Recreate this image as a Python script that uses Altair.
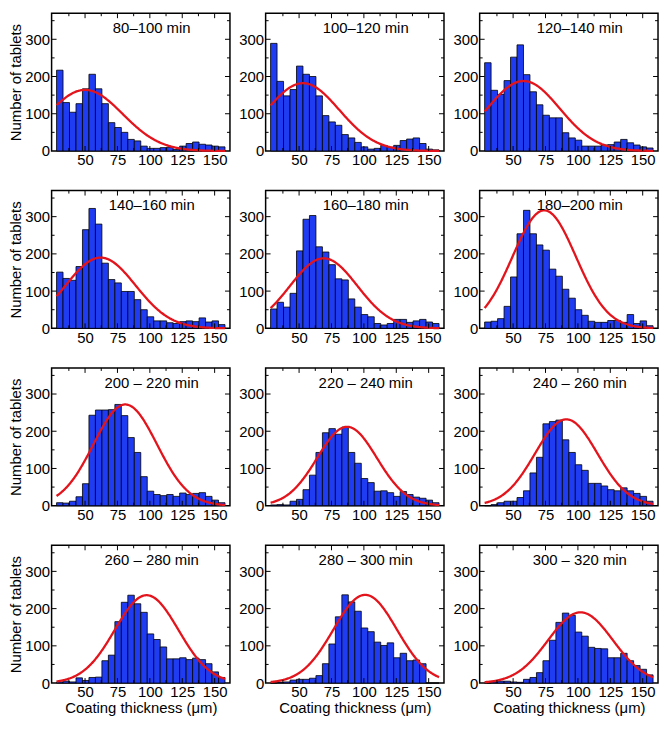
import altair as alt
import pandas as pd

# ---------------- data ----------------
bin_lo = list(range(28, 158, 5))          # 26 bins, 5 µm wide
BIN_W = 5
x_domain = [28, 158]
y_domain = [0, 370]
x_major = [50, 75, 100, 125, 150]
x_minor = [37.5, 62.5, 87.5, 112.5, 137.5]
y_major = [100, 200, 300]
y_minor = [50, 150, 250, 350]

panel_labels = ["80–100 min", "100–120 min", "120–140 min",
                "140–160 min", "160–180 min", "180–200 min",
                "200 – 220 min", "220 – 240 min", "240 – 260 min",
                "260 – 280 min", "280 – 300 min", "300 – 320 min"]

counts_080_100 = [217, 130, 104, 127, 167, 206, 167, 127, 76, 63, 50, 31, 27, 13, 7, 7, 9, 10, 4, 13, 20, 24, 18, 16, 13, 11]
counts_100_120 = [289, 187, 148, 165, 228, 206, 200, 148, 95, 78, 69, 44, 35, 23, 11, 5, 7, 15, 10, 15, 28, 32, 35, 20, 5, 3]
counts_120_140 = [237, 163, 152, 189, 252, 285, 205, 159, 124, 96, 89, 89, 49, 35, 29, 13, 13, 13, 16, 17, 24, 31, 22, 16, 11, 8]
counts_140_160 = [151, 134, 129, 166, 265, 322, 280, 175, 131, 122, 99, 99, 77, 50, 31, 20, 20, 15, 13, 18, 20, 18, 28, 17, 20, 10]
counts_160_180 = [52, 70, 57, 94, 208, 293, 303, 219, 205, 171, 133, 130, 79, 57, 37, 31, 13, 9, 13, 24, 24, 16, 20, 24, 17, 13]
counts_180_200 = [17, 19, 26, 59, 138, 254, 317, 254, 224, 210, 159, 140, 105, 81, 50, 35, 19, 16, 16, 21, 21, 16, 37, 13, 20, 7]
counts_200_220 = [8, 7, 12, 24, 59, 243, 257, 257, 258, 272, 242, 183, 143, 78, 39, 30, 27, 30, 25, 34, 30, 33, 35, 25, 15, 8]
counts_220_240 = [2, 3, 2, 12, 17, 43, 82, 143, 196, 207, 192, 211, 143, 114, 73, 62, 39, 40, 35, 25, 38, 30, 23, 20, 15, 8]
counts_240_260 = [0, 3, 8, 12, 12, 22, 40, 88, 130, 220, 226, 230, 177, 143, 110, 95, 60, 60, 53, 43, 40, 48, 40, 33, 25, 12]
counts_260_280 = [3, 5, 3, 14, 7, 15, 16, 60, 75, 165, 217, 236, 213, 190, 132, 117, 97, 65, 65, 68, 63, 67, 63, 52, 30, 15]
counts_280_300 = [0, 2, 3, 8, 10, 10, 13, 20, 52, 105, 178, 237, 218, 193, 148, 138, 110, 101, 108, 68, 80, 60, 62, 52, 0, 0]
counts_300_320 = [0, 3, 5, 5, 3, 2, 10, 15, 28, 60, 115, 163, 188, 182, 137, 126, 96, 93, 92, 68, 68, 80, 60, 47, 37, 22]

all_counts = [counts_080_100, counts_100_120, counts_120_140,
              counts_140_160, counts_160_180, counts_180_200,
              counts_200_220, counts_220_240, counts_240_260,
              counts_260_280, counts_280_300, counts_300_320]

# Gaussian fit parameters
fit_mean = [50, 53, 58, 62, 69, 74, 81, 87, 91, 97.5, 101, 102]
fit_sd = [29, 28, 28, 27, 26, 24.5, 24.5, 23, 24, 24.5, 24.5, 25]
fit_amp = [164, 182, 188, 190, 188, 317, 272, 212, 232, 236, 237, 190]

# ---------------- styling ----------------
W, H = 180, 139
BLUE = "#1f3cf2"
RED = "#e3141c"
FONT = "Liberation Sans"
xs = alt.Scale(domain=x_domain, nice=False, zero=False)
ys = alt.Scale(domain=y_domain, nice=False)


def panel(i):
    col, row = i % 3, i // 3
    xaxis = alt.Axis(values=x_major,
                     title="Coating thickness (μm)" if row == 3 else None)
    yaxis = alt.Axis(values=[0] + y_major,
                     title="Number of tablets" if col == 0 else None)

    def X(f):
        return alt.X(f, scale=xs, axis=xaxis)

    def Y(f):
        return alt.Y(f, scale=ys, axis=yaxis)

    df = pd.DataFrame({"lo": bin_lo,
                       "hi": [b + BIN_W for b in bin_lo],
                       "n": all_counts[i]})
    bars = alt.Chart(df).mark_bar(color=BLUE, stroke="black", strokeWidth=0.8,
                                  orient="vertical").encode(
        x=X("lo:Q"), x2="hi:Q", y=Y("n:Q"), y2=alt.datum(0)
    )
    mu, sd, amp = fit_mean[i], fit_sd[i], fit_amp[i]
    curve = alt.Chart(alt.sequence(28, 158.01, 0.5, as_="x")).transform_calculate(
        y=f"{amp}*exp(-pow(datum.x-{mu},2)/(2*{sd}*{sd}))"
    ).mark_line(color=RED, strokeWidth=2.3).encode(x=X("x:Q"), y=Y("y:Q"))
    label = alt.Chart(pd.DataFrame({"t": [panel_labels[i]]})).mark_text(
        font=FONT, fontSize=15, align="center", baseline="middle", color="black"
    ).encode(x=alt.value(101), y=alt.value(15), text="t:N")

    def ticks(vals, side, L):
        base = alt.Chart(pd.DataFrame({"v": vals})).mark_rule(color="black", strokeWidth=1)
        if side == "bottom":
            return base.encode(x=X("v:Q"), y=alt.value(H), y2=alt.value(H - L))
        if side == "top":
            return base.encode(x=X("v:Q"), y=alt.value(0), y2=alt.value(L))
        if side == "left":
            return base.encode(y=Y("v:Q"), x=alt.value(0), x2=alt.value(L))
        return base.encode(y=Y("v:Q"), x=alt.value(W), x2=alt.value(W - L))

    layers = [bars, curve, label]
    for side in ["bottom", "top"]:
        layers.append(ticks(x_major, side, 5))
        layers.append(ticks(x_minor, side, 3))
    for side in ["left", "right"]:
        layers.append(ticks(y_major, side, 5))
        layers.append(ticks(y_minor, side, 3))
    return alt.layer(*layers).properties(width=W, height=H)


chart = alt.concat(*[panel(i) for i in range(12)], columns=3,
                   spacing=alt.RowColnumber(row=40, column=36), bounds="flush").properties(
    padding={"left": 0, "top": 0, "right": 0, "bottom": 0}
).configure_view(
    stroke="black", strokeWidth=1.5
).configure_axis(
    labelFont=FONT, labelFontSize=15, labelColor="black", labelPadding=2,
    titleFont=FONT, titleFontSize=15, titleFontWeight="normal", titleColor="black",
    titlePadding=1, ticks=False, domain=False, grid=False
)

chart.save("out.html", embed_options={"renderer": "svg", "actions": False})
